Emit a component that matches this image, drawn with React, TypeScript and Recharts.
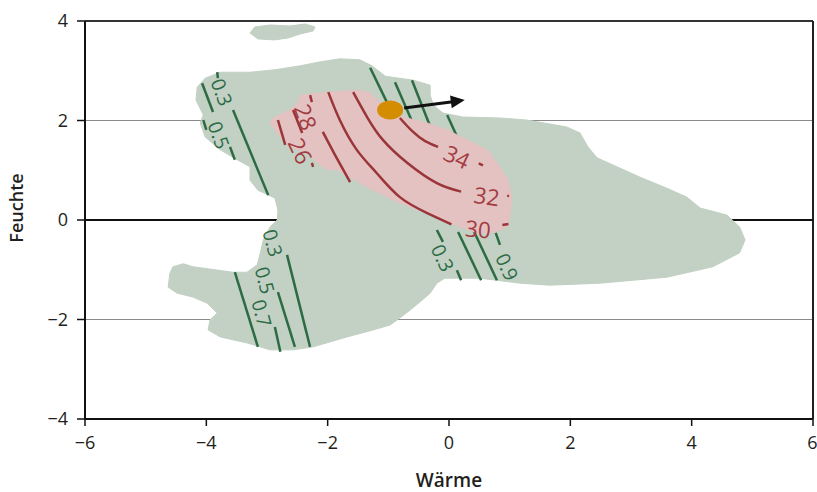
import React from 'react';
import { ScatterChart, Scatter, XAxis, YAxis, CartesianGrid, ReferenceLine } from 'recharts';

type Pt = { x: number; y: number };
type Tag = Pt & { text: string; angle: number };

const pts = (pairs: number[][]): Pt[] => pairs.map(([x, y]) => ({ x, y }));

const xTicks = [-6, -4, -2, 0, 2, 4, 6];
const yTicks = [-4, -2, 0, 2, 4];

// Klimaraum (Wärme / Feuchte)
const climateSpace = pts([
  [-4.15, 2.67], [-4.02, 2.85], [-3.77, 2.97], [-3.28, 2.97], [-2.87, 3.02], [-2.45, 3.1],
  [-2.12, 3.18], [-1.8, 3.24], [-1.47, 3.22], [-1.27, 3.1], [-1.05, 2.89], [-0.59, 2.81],
  [-0.31, 2.71], [-0.31, 2.51], [-0.26, 2.31], [-0.1, 2.15], [0.23, 2.07], [0.84, 2.05],
  [1.28, 2.01], [1.94, 1.87], [2.16, 1.75], [2.29, 1.47], [2.44, 1.25], [3.15, 0.86],
  [3.59, 0.64], [3.92, 0.46], [4.14, 0.24], [4.58, 0.1], [4.79, -0.14], [4.88, -0.4],
  [4.79, -0.66], [4.35, -0.94], [3.59, -1.15], [2.49, -1.27], [1.66, -1.31], [1.17, -1.27],
  [0.51, -1.17], [0.13, -1.17], [-0.07, -1.17], [-0.2, -1.27], [-0.31, -1.47], [-0.48, -1.65],
  [-0.64, -1.81], [-0.81, -1.97], [-0.97, -2.11], [-1.25, -2.21], [-1.68, -2.35], [-2.24, -2.55],
  [-2.57, -2.61], [-2.95, -2.61], [-3.33, -2.47], [-3.77, -2.35], [-3.97, -2.21], [-3.94, -2.01],
  [-3.82, -1.87], [-3.99, -1.67], [-4.22, -1.55], [-4.48, -1.47], [-4.63, -1.35], [-4.6, -1.07],
  [-4.55, -0.94], [-4.38, -0.88], [-4.22, -0.94], [-3.56, -1.05], [-3.33, -1.05], [-3.16, -0.9],
  [-3.11, -0.66], [-3.06, -0.4], [-2.95, -0.14], [-2.83, 0.0], [-2.82, 0.2], [-2.87, 0.44],
  [-3.15, 0.6], [-3.28, 0.8], [-3.28, 1.07], [-3.49, 1.21], [-3.77, 1.41], [-4.02, 1.67],
  [-4.1, 1.95], [-4.05, 2.11], [-4.17, 2.41],
]);

const climateIsland = pts([
  [-3.28, 3.76], [-3.2, 3.88], [-2.95, 3.92], [-2.62, 3.9], [-2.37, 3.94], [-2.21, 3.88],
  [-2.24, 3.8], [-2.45, 3.74], [-2.65, 3.66], [-2.87, 3.62], [-3.15, 3.64],
]);

// Bereich mit Temperaturmaximum
const heatZone = pts([
  [-2.45, 2.51], [-2.01, 2.57], [-1.47, 2.61], [-1.3, 2.55], [-1.14, 2.37], [-0.76, 2.07],
  [-0.36, 1.95], [-0.03, 1.81], [0.3, 1.61], [0.63, 1.41], [0.84, 1.07], [0.97, 0.8],
  [1.04, 0.46], [1.0, 0.06], [0.96, -0.14], [0.72, -0.26], [0.46, -0.26], [0.18, -0.14],
  [-0.2, 0.06], [-0.64, 0.26], [-0.92, 0.4], [-1.25, 0.6], [-1.63, 0.86], [-1.85, 1.01],
  [-2.01, 1.01], [-2.17, 1.15], [-2.34, 1.35], [-2.62, 1.47], [-2.78, 1.67], [-2.95, 1.95],
  [-2.9, 2.05], [-2.62, 2.21], [-2.5, 2.35],
]);

// Isolinien der Feuchte
const moistureLines = [
  [[-4.07, 2.75], [-3.89, 2.17]],
  [[-4.05, 2.01], [-4.0, 1.81]],
  [[-3.61, 1.47], [-3.53, 1.21]],
  [[-3.82, 2.97], [-3.81, 2.85]],
  [[-3.56, 2.21], [-2.98, 0.5]],
  [[-3.53, -1.05], [-3.15, -2.55]],
  [[-2.67, -0.7], [-2.29, -2.55]],
  [[-2.82, -1.45], [-2.54, -2.55]],
  [[-2.87, -2.15], [-2.78, -2.65]],
  [[-1.3, 3.06], [-1.0, 2.31]],
  [[-0.89, 2.77], [-0.58, 1.9]],
  [[-0.61, 2.81], [-0.3, 1.85]],
  [[-0.03, 2.11], [0.23, 1.41]],
  [[-0.2, -0.2], [-0.1, -0.44]],
  [[0.13, -1.01], [0.2, -1.21]],
  [[0.15, -0.24], [0.53, -1.21]],
  [[0.4, -0.2], [0.79, -1.21]],
  [[0.77, -0.26], [0.84, -0.5]],
].map(pts);

const moistureLabels: Tag[] = [
  { x: -3.74, y: 2.57, text: '0.3', angle: 70 },
  { x: -3.79, y: 1.71, text: '0.5', angle: 70 },
  { x: -2.9, y: -0.46, text: '0.3', angle: 75 },
  { x: -3.03, y: -1.21, text: '0.5', angle: 75 },
  { x: -3.08, y: -1.87, text: '0.7', angle: 75 },
  { x: -0.1, y: -0.76, text: '0.3', angle: 65 },
  { x: 0.96, y: -0.94, text: '0.9', angle: 65 },
];

// Isothermen
const tempLines = [
  [[-0.81, 2.05], [-0.61, 1.79], [-0.4, 1.59], [-0.18, 1.47]],
  [[0.49, 1.14], [0.56, 1.1]],
  [[-1.58, 2.57], [-1.35, 2.07], [-1.09, 1.61], [-0.69, 1.15], [-0.2, 0.74], [0.2, 0.57]],
  [[0.96, 0.49], [0.99, 0.48]],
  [[-1.99, 2.57], [-1.8, 2.01], [-1.52, 1.41], [-1.19, 0.94], [-0.81, 0.46], [-0.36, 0.14], [0.04, -0.09]],
  [[0.88, -0.1], [0.98, -0.08]],
  [[-2.29, 2.51], [-2.26, 2.37]],
  [[-2.08, 1.77], [-1.88, 1.31], [-1.63, 0.76]],
  [[-2.57, 2.21], [-2.42, 1.75]],
  [[-2.26, 1.15], [-2.24, 1.07]],
  [[-2.82, 2.01], [-2.7, 1.51]],
].map(pts);

const tempLabels: Tag[] = [
  { x: 0.13, y: 1.27, text: '34', angle: 25 },
  { x: 0.62, y: 0.48, text: '32', angle: 8 },
  { x: 0.48, y: -0.18, text: '30', angle: 5 },
  { x: -2.36, y: 2.07, text: '28', angle: 70 },
  { x: -2.45, y: 1.39, text: '26', angle: 65 },
];

const site = pts([[-0.97, 2.21]]);
const shift = pts([[-0.74, 2.25], [0.26, 2.41]]);
const zeroLine = pts([[-6, 0], [6, 0]]);

const GREEN_FILL = '#c2d1c4';
const PINK_FILL = '#e3c2c1';
const GREEN_LINE = '#2c6b44';
const RED_LINE = '#9b3539';
const FONT = '"Open Sans", sans-serif';

const fmt = (v: number) => (v < 0 ? `\u2212${-v}` : `${v}`);
const noDot = () => <g />;

const tagShape = (color: string, size: number) => (props: any) => {
  const { cx, cy, payload } = props;
  return (
    <text
      x={cx}
      y={cy}
      transform={`rotate(${payload.angle} ${cx} ${cy})`}
      textAnchor="middle"
      dominantBaseline="central"
      fill={color}
      fontSize={size}
      fontFamily={FONT}
    >
      {payload.text}
    </text>
  );
};

const arrowLine = (props: any) => {
  const [a, b] = props.points;
  const ang = Math.atan2(b.y - a.y, b.x - a.x);
  const len = 14;
  const half = 6.5;
  const bx = b.x - len * Math.cos(ang);
  const by = b.y - len * Math.sin(ang);
  const nx = -Math.sin(ang) * half;
  const ny = Math.cos(ang) * half;
  return (
    <g>
      <line x1={a.x} y1={a.y} x2={bx + 2 * Math.cos(ang)} y2={by + 2 * Math.sin(ang)} stroke="#111" strokeWidth={3} />
      <polygon points={`${b.x},${b.y} ${bx + nx},${by + ny} ${bx - nx},${by - ny}`} fill="#111" />
    </g>
  );
};

export default function App() {
  return (
    <div style={{ position: 'absolute', left: 0, top: 0 }}>
      <ScatterChart width={817} height={492} margin={{ top: 21, right: 4, bottom: 0, left: 0 }}>
        <CartesianGrid vertical={false} stroke="#8a8a8a" strokeWidth={1.2} />
        <XAxis
          type="number"
          dataKey="x"
          domain={[-6, 6]}
          ticks={xTicks}
          tickFormatter={fmt}
          height={73}
          tickSize={7}
          tickMargin={10}
          axisLine={{ stroke: '#111', strokeWidth: 2 }}
          tickLine={{ stroke: '#111', strokeWidth: 1.5 }}
          tick={{ fontSize: 18, fill: '#231f20', fontFamily: FONT }}
          label={{ value: 'Wärme', position: 'insideBottom', offset: 5, fontSize: 19, fontWeight: 600, fill: '#231f20', fontFamily: FONT }}
        />
        <YAxis
          type="number"
          dataKey="y"
          domain={[-4, 4]}
          ticks={yTicks}
          tickFormatter={fmt}
          width={85}
          tickSize={8}
          tickMargin={9}
          axisLine={{ stroke: '#111', strokeWidth: 2 }}
          tickLine={{ stroke: '#111', strokeWidth: 1.5 }}
          tick={{ fontSize: 18, fill: '#231f20', fontFamily: FONT }}
          label={{ value: 'Feuchte', angle: -90, position: 'center', dx: -26, dy: -12, fontSize: 18, fontWeight: 600, fill: '#231f20', fontFamily: FONT }}
        />
        <ReferenceLine y={4} stroke="#333" strokeWidth={2} />
        <ReferenceLine x={6} stroke="#222" strokeWidth={2} />

        <Scatter data={zeroLine} isAnimationActive={false} shape={noDot} line={{ stroke: '#111', strokeWidth: 2 }} />

        <Scatter data={climateSpace} isAnimationActive={false} shape={noDot} lineJointType="linearClosed" line={{ fill: GREEN_FILL, stroke: GREEN_FILL, strokeWidth: 1 }} />
        <Scatter data={climateIsland} isAnimationActive={false} shape={noDot} lineJointType="linearClosed" line={{ fill: GREEN_FILL, stroke: GREEN_FILL, strokeWidth: 1 }} />

        {moistureLines.map((seg, i) => (
          <Scatter key={`m-${i}`} data={seg} isAnimationActive={false} shape={noDot} line={{ stroke: GREEN_LINE, strokeWidth: 2.5, fill: 'none' }} />
        ))}
        <Scatter data={moistureLabels} isAnimationActive={false} shape={tagShape(GREEN_LINE, 19.5)} />

        <Scatter data={heatZone} isAnimationActive={false} shape={noDot} lineJointType="linearClosed" line={{ fill: PINK_FILL, stroke: PINK_FILL, strokeWidth: 1 }} />

        {tempLines.map((seg, i) => (
          <Scatter key={`t-${i}`} data={seg} isAnimationActive={false} shape={noDot} lineJointType="natural" line={{ stroke: RED_LINE, strokeWidth: 2.5, fill: 'none' }} />
        ))}
        <Scatter data={tempLabels} isAnimationActive={false} shape={tagShape('#a33c42', 22.5)} />

        <Scatter data={shift} isAnimationActive={false} shape={noDot} line={arrowLine} />
        <Scatter
          data={site}
          isAnimationActive={false}
          shape={(p: any) => <ellipse cx={p.cx} cy={p.cy} rx={13} ry={9.5} fill="#d48c00" />}
        />
      </ScatterChart>
    </div>
  );
}
